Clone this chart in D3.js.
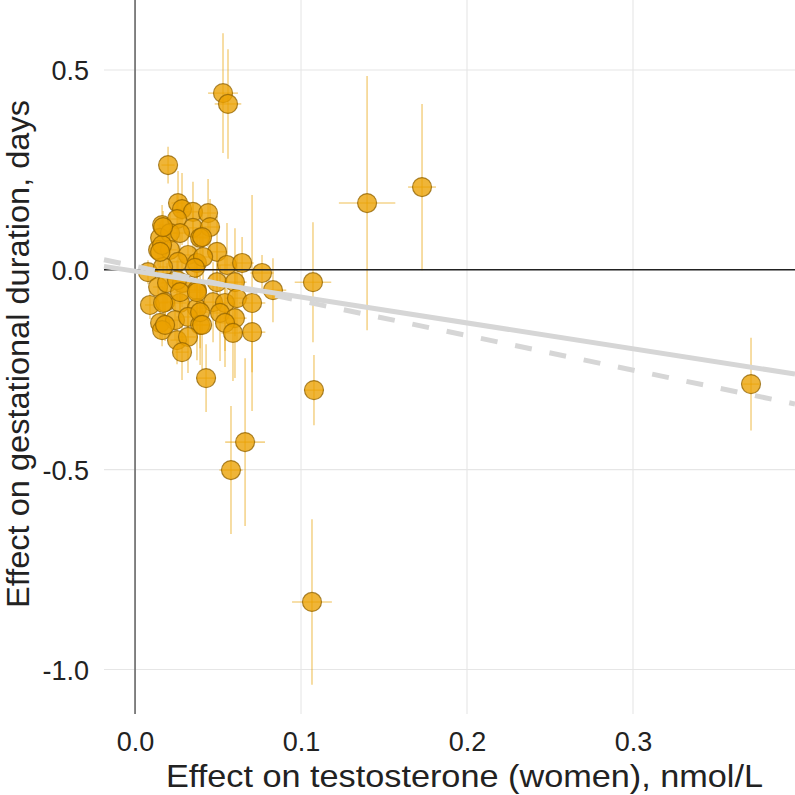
<!DOCTYPE html>
<html>
<head>
<meta charset="utf-8">
<script src="https://cdn.jsdelivr.net/npm/d3@7"></script>
<style>
  html, body { margin: 0; padding: 0; background: #ffffff; }
  svg { display: block; font-family: "Liberation Sans", Arial, sans-serif; }
</style>
</head>
<body>
<svg id="chart" width="795" height="795"></svg>
<script>
// ---- data: effect on testosterone (x) and on gestational duration (y), with 95% CI half-widths
const effectTestosterone = [
  0.0530, 0.0560, 0.0199, 0.1398, 0.1729, 0.1072, 0.1078, 0.0663, 0.0578, 0.1066, 0.3711, 0.0428,
  0.0259, 0.0283, 0.0349, 0.0440, 0.0163, 0.0253, 0.0349, 0.0452, 0.0392, 0.0151,
  0.0211, 0.0139, 0.0211, 0.0319, 0.0494, 0.0259, 0.0373, 0.0078, 0.0169, 0.0554,
  0.0645, 0.0765, 0.0831, 0.0139, 0.0193, 0.0283, 0.0373, 0.0494, 0.0602, 0.0090,
  0.0181, 0.0271, 0.0373, 0.0470, 0.0542, 0.0614, 0.0705, 0.0151, 0.0241, 0.0319,
  0.0392, 0.0512, 0.0602, 0.0542, 0.0163, 0.0253, 0.0319, 0.0590, 0.0705, 0.0283,
  0.0404, 0.0271, 0.0163, 0.0151, 0.0410, 0.0361, 0.0253, 0.0169, 0.0271, 0.0373,
  0.0392, 0.0181, 0.0404, 0.0169
];
const effectGestation = [
  0.442, 0.415, 0.262, 0.167, 0.207, -0.031, -0.301, -0.431, -0.501, -0.831, -0.286, -0.271,
  0.167, 0.152, 0.145, 0.142, 0.112, 0.127, 0.105, 0.107, 0.080, 0.080,
  0.092, 0.050, 0.050, 0.037, 0.045, 0.020, 0.017, -0.006, 0.007, 0.012,
  0.017, -0.008, -0.051, -0.043, -0.033, -0.033, -0.051, -0.031, -0.031, -0.088,
  -0.081, -0.083, -0.096, -0.081, -0.083, -0.071, -0.083, -0.133, -0.126, -0.118,
  -0.138, -0.108, -0.121, -0.133, -0.151, -0.176, -0.168, -0.158, -0.156, -0.206,
  0.082, 0.092, 0.062, 0.045, 0.032, 0.005, -0.026, -0.083, -0.056, -0.056,
  -0.106, -0.138, -0.138, 0.107
];
const ciGestation = [
  0.150, 0.137, 0.046, 0.318, 0.208, 0.150, 0.088, 0.210, 0.160, 0.207, 0.116, 0.085,
  0.080, 0.090, 0.075, 0.085, 0.050, 0.060, 0.060, 0.070, 0.060, 0.040,
  0.050, 0.040, 0.050, 0.060, 0.090, 0.050, 0.070, 0.030, 0.040, 0.105,
  0.065, 0.045, 0.080, 0.040, 0.050, 0.060, 0.070, 0.100, 0.135, 0.035,
  0.045, 0.060, 0.130, 0.100, 0.120, 0.110, 0.270, 0.040, 0.050, 0.070,
  0.100, 0.120, 0.150, 0.110, 0.040, 0.060, 0.090, 0.120, 0.100, 0.070,
  0.070, 0.060, 0.040, 0.040, 0.060, 0.060, 0.050, 0.040, 0.050, 0.080,
  0.090, 0.040, 0.110, 0.040
];
const ciTestosterone = [
  0.009, 0.008, 0.004, 0.017, 0.0084, 0.011, 0.006, 0.012, 0.007, 0.012, 0.005, 0.006,
  0.004, 0.004, 0.005, 0.005, 0.003, 0.004, 0.005, 0.006, 0.005, 0.003,
  0.004, 0.003, 0.004, 0.005, 0.006, 0.004, 0.005, 0.003, 0.003, 0.006,
  0.007, 0.007, 0.008, 0.003, 0.004, 0.004, 0.005, 0.006, 0.007, 0.003,
  0.003, 0.004, 0.005, 0.006, 0.006, 0.007, 0.008, 0.003, 0.004, 0.005,
  0.005, 0.006, 0.007, 0.006, 0.003, 0.004, 0.005, 0.007, 0.008, 0.004,
  0.005, 0.004, 0.003, 0.003, 0.005, 0.005, 0.004, 0.003, 0.004, 0.005,
  0.005, 0.003, 0.005, 0.003
];
// regression lines (intercept, slope)
const fitSolid = [-0.0035, -0.647];
const fitDashed = [0.009, -0.867];

const xTicks = [0.0, 0.1, 0.2, 0.3];
const yTicks = [0.5, 0.0, -0.5, -1.0];
const xTitle = "Effect on testosterone (women), nmol/L";
const yTitle = "Effect on gestational duration, days";

// ---- layout
const svg = d3.select("#chart");
const panel = {left: 104, right: 795, top: 0, bottom: 714};
const x = d3.scaleLinear().domain([-0.0187, 0.3976]).range([panel.left, panel.right]);
const y = d3.scaleLinear().domain([-1.1113, 0.675]).range([panel.bottom, panel.top]);
const fmt = d => d3.format(".1f")(d).replace("\u2212", "-");

const data = effectTestosterone.map((v, i) => ({
  x: v, y: effectGestation[i], ey: ciGestation[i], ex: ciTestosterone[i]
}));

// grid
const grid = svg.append("g");
grid.selectAll("line.gx").data(xTicks).join("line")
  .attr("x1", d => x(d)).attr("x2", d => x(d))
  .attr("y1", panel.top).attr("y2", panel.bottom)
  .attr("stroke", "#e6e6e6").attr("stroke-width", 1.1);
grid.selectAll("line.gy").data(yTicks).join("line")
  .attr("x1", panel.left).attr("x2", panel.right)
  .attr("y1", d => y(d)).attr("y2", d => y(d))
  .attr("stroke", "#e6e6e6").attr("stroke-width", 1.1);

// axes (labels only)
const xAxis = d3.axisBottom(x).tickValues(xTicks).tickFormat(fmt).tickSize(0).tickPadding(0);
const gx = svg.append("g").attr("transform", `translate(0,${panel.bottom})`).call(xAxis);
gx.select(".domain").remove();
gx.selectAll("text").attr("font-size", 27).attr("fill", "#222").attr("dy", "0").attr("y", 37)
  .attr("font-family", "Liberation Sans, Arial, sans-serif");

const yAxis = d3.axisLeft(y).tickValues(yTicks).tickFormat(fmt).tickSize(0).tickPadding(0);
const gy = svg.append("g").attr("transform", `translate(${panel.left},0)`).call(yAxis);
gy.select(".domain").remove();
gy.selectAll("text").attr("font-size", 27).attr("fill", "#222").attr("x", -15).attr("dy", "0.36em")
  .attr("font-family", "Liberation Sans, Arial, sans-serif");

// vertical reference line at x = 0
svg.append("line")
  .attr("x1", x(0)).attr("x2", x(0)).attr("y1", panel.top).attr("y2", panel.bottom)
  .attr("stroke", "#555").attr("stroke-width", 1.4);

// error bars
const eb = svg.append("g").attr("stroke", "#E69F00").attr("stroke-opacity", 0.45).attr("stroke-width", 1.6);
eb.selectAll("line.v").data(data).join("line")
  .attr("x1", d => x(d.x)).attr("x2", d => x(d.x))
  .attr("y1", d => y(d.y - d.ey)).attr("y2", d => y(d.y + d.ey));
eb.selectAll("line.h").data(data).join("line")
  .attr("x1", d => x(d.x - d.ex)).attr("x2", d => x(d.x + d.ex))
  .attr("y1", d => y(d.y)).attr("y2", d => y(d.y));

// points
svg.append("g").selectAll("circle").data(data).join("circle")
  .attr("cx", d => x(d.x)).attr("cy", d => y(d.y)).attr("r", 9.5)
  .attr("fill", "#EBA000").attr("fill-opacity", 0.78)
  .attr("stroke", "#8f6200").attr("stroke-opacity", 0.75).attr("stroke-width", 1.2);

// horizontal reference line at y = 0
svg.append("line")
  .attr("x1", panel.left).attr("x2", panel.right).attr("y1", y(0)).attr("y2", y(0))
  .attr("stroke", "#222").attr("stroke-width", 1.4);

// regression lines
const xd = x.domain();
function fitLine(f) { return xd.map(v => [x(v), y(f[0] + f[1] * v)]); }
svg.append("path").attr("d", d3.line()(fitLine(fitSolid)))
  .attr("fill", "none").attr("stroke", "#d6d6d6").attr("stroke-width", 5);
svg.append("path").attr("d", d3.line()(fitLine(fitDashed)))
  .attr("fill", "none").attr("stroke", "#d6d6d6").attr("stroke-width", 5)
  .attr("stroke-dasharray", "17,18");

// titles
svg.append("text").text(xTitle)
  .attr("x", 464.5).attr("y", 787)
  .attr("text-anchor", "middle").attr("font-size", 32).attr("fill", "#222")
  .attr("textLength", 597).attr("lengthAdjust", "spacingAndGlyphs");
svg.append("text").text(yTitle)
  .attr("transform", `translate(29,354) rotate(-90)`)
  .attr("text-anchor", "middle").attr("font-size", 32).attr("fill", "#222")
  .attr("textLength", 508).attr("lengthAdjust", "spacingAndGlyphs");
</script>
</body>
</html>
